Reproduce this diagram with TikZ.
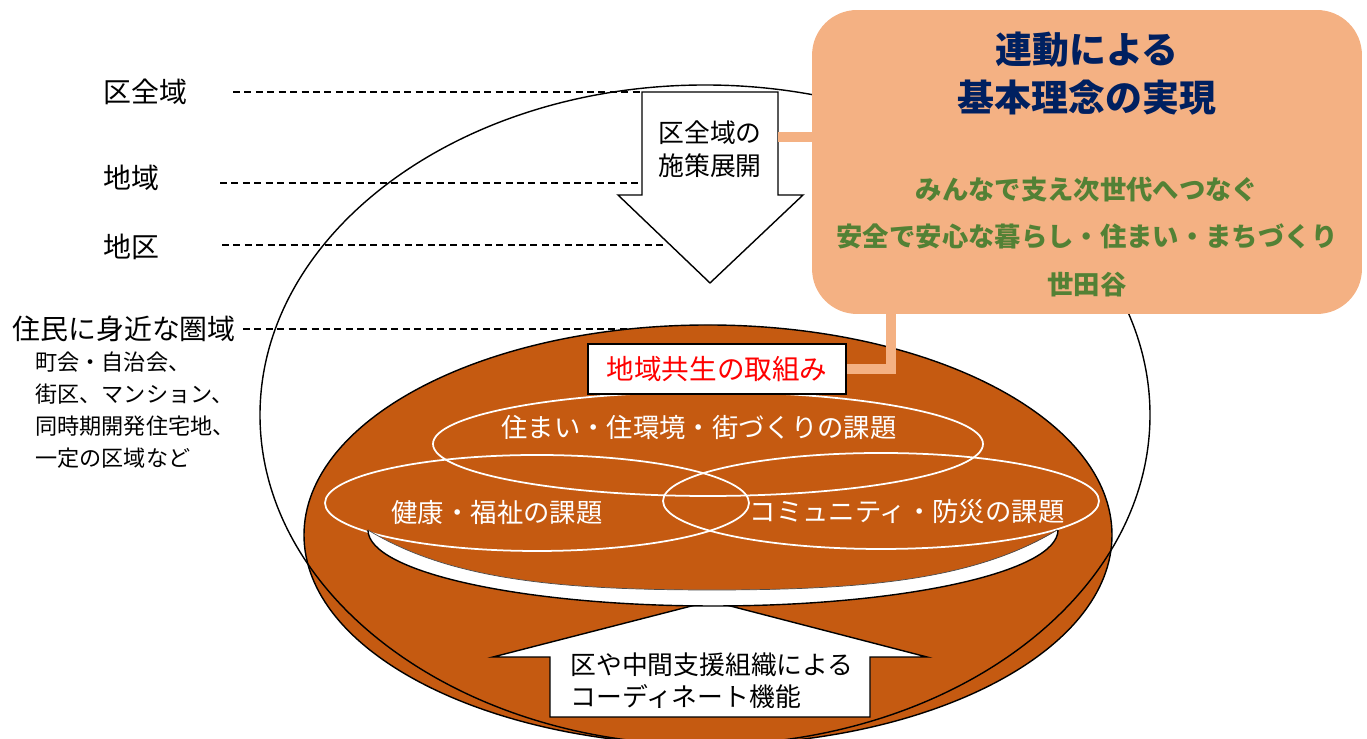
\documentclass[tikz,border=0pt]{standalone}
\usepackage{fontspec}
\setmainfont{Noto Sans CJK JP}
\usepackage{tikz}
\usetikzlibrary{positioning}
\definecolor{disk}{HTML}{C55A11}
\definecolor{peach}{HTML}{F4B183}
\definecolor{navy}{HTML}{002060}
\definecolor{leaf}{HTML}{538135}

\begin{document}
\begin{tikzpicture}[x=0.02cm,y=0.02cm,
    lbl/.style={anchor=west,inner sep=0pt,font=\fontsize{15.9}{18}\selectfont},
    sublbl/.style={anchor=west,inner sep=0pt,align=left,font=\fontsize{12.6}{18.1}\selectfont},
    issue/.style={inner sep=0pt,text=white,font=\fontsize{15}{18}\selectfont},
    ring/.style={draw=white,line width=1pt},
    link/.style={draw=peach,line width=6.2pt},
    level/.style={dashed,dash pattern=on 4pt off 2.5pt,line width=0.8pt}]
    \useasboundingbox (0,0) rectangle (1367,739);
    % levels on the left
    \node[lbl] (ku) at (103,647) {区全域};
    \node[lbl] (chiiki) at (103,561) {地域};
    \node[lbl] (chiku) at (103,492) {地区};
    \node[lbl] (kenIki) at (12,410) {住民に身近な圏域};
    \node[sublbl] (kenRei) at (35,329) {町会・自治会、\\街区、マンション、\\同時期開発住宅地、\\一定の区域など};
    \draw[level] (233,647) -- (642,647);
    \draw[level] (220,556) -- (642,556);
    \draw[level] (222,494) -- (665,494);
    \draw[level] (243,410) -- (660,410);
    % disk and outer ellipse
    \filldraw[fill=disk,thick] (708,204) ellipse [x radius=404, y radius=210];
    \draw[thick] (705,324) ellipse [x radius=445, y radius=330];
    % downward arrow
    \filldraw[fill=white,thick] (642,647) -- (778,647) -- (778,544) -- (803,544)
      -- (710,456) -- (618,544) -- (642,544) -- cycle;
    \node[align=center,inner sep=0pt,font=\fontsize{14.7}{18.7}\selectfont] (shisaku) at (710,590) {区全域の\\施策展開};
    % three issues
    \draw[ring] (708,295) ellipse [x radius=275, y radius=52];
    \draw[ring] (537,236) ellipse [x radius=212, y radius=48];
    \draw[ring] (881,238) ellipse [x radius=218, y radius=48];
    \node[issue] (sumai) at (699,311) {住まい・住環境・街づくりの課題};
    \node[issue] (kenko) at (497,226) {健康・福祉の課題};
    \node[issue] (bosai) at (907,227) {コミュニティ・防災の課題};
    % upward arrow
    \filldraw[fill=white,thick] (711,138) -- (927,82) -- (870,82) -- (870,22)
      -- (550,22) -- (550,82) -- (493,82) -- cycle;
    \node[anchor=west,align=left,inner sep=0pt,font=\fontsize{14.7}{18.1}\selectfont] (coord) at (570,58) {区や中間支援組織による\\コーディネート機能};
    % white gap under the plate
    \fill[white] (368,209) arc [start angle=180, end angle=360, x radius=345, y radius=76]
      .. controls (975,159) and (864,149) .. (712,149)
      .. controls (560,149) and (450,159) .. (368,209) -- cycle;
    \draw[thick] (368,209) arc [start angle=180, end angle=360, x radius=345, y radius=76];
    \draw[line width=0.4pt,black!70] (1057,209) .. controls (975,159) and (864,149) .. (712,149)
      .. controls (560,149) and (450,159) .. (368,209);
    % vision box
    \node[fill=peach,rounded corners=0.9cm,minimum width=11cm,minimum height=6.08cm,inner sep=0pt] (vision) at (1087,577) {};
    \node[draw,thick,fill=white,text=red,minimum width=5.16cm,minimum height=1cm,inner sep=0pt,
      font=\fontsize{15.7}{18}\selectfont] (kyosei) at (717,370) {地域共生の取組み};
    \coordinate (dhook) at (778,602);
    \coordinate (khook) at (891,370);
    \draw[link] (dhook) -- (vision.west |- dhook);
    \draw[link] (khook |- vision.south) |- (kyosei.east);
    \node[align=center,inner sep=0pt,text=navy,font=\bfseries\fontsize{21}{27.2}\selectfont] (rinen) at (1087,665) {連動による\\基本理念の実現};
    \node[align=center,inner sep=0pt,text=leaf,font=\bfseries\fontsize{15}{27.2}\selectfont] (motto) at (1087,502) {みんなで支え次世代へつなぐ\\安全で安心な暮らし・住まい・まちづくり\\世田谷};
\end{tikzpicture}
\end{document}
